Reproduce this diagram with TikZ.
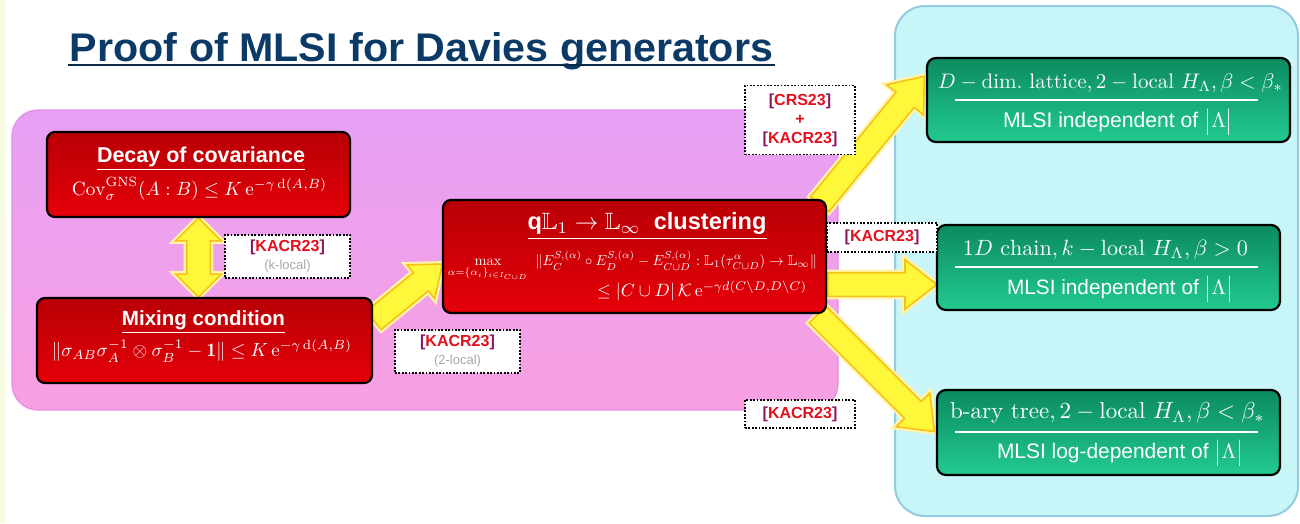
\documentclass[tikz,border=0pt]{standalone}
\usepackage{amsmath,amssymb}
\usepackage{fontspec}
\setsansfont{Liberation Sans}
\usetikzlibrary{shapes.arrows,calc}
\pgfdeclarelayer{back}
\pgfsetlayers{back,main}

\definecolor{titleblue}{HTML}{0B3A66}
\definecolor{pinktop}{HTML}{E6A0F4}
\definecolor{pinkbot}{HTML}{F8A0E2}
\definecolor{pinkedge}{HTML}{E48FE6}
\definecolor{cyanfill}{HTML}{C8F6F8}
\definecolor{cyanedge}{HTML}{93CBE0}
\definecolor{redtop}{HTML}{B80006}
\definecolor{redbot}{HTML}{E60008}
\definecolor{greentop}{HTML}{0C8A5F}
\definecolor{greenbot}{HTML}{22CB8F}
\definecolor{arrowfill}{HTML}{FFF83A}
\definecolor{arrowedge}{HTML}{F4C21A}
\definecolor{arrowglow}{HTML}{FFF4A8}
\definecolor{refred}{HTML}{E3101E}
\definecolor{refbrk}{HTML}{8A1664}
\definecolor{refgray}{HTML}{A8A8A8}
\definecolor{edgecream}{HTML}{F7FBE2}

% scale a piece of text or math to a given width
\newcommand\fitto[2]{\resizebox{#1}{!}{#2}}
% reference tag with coloured brackets
\newcommand\reftag[1]{\textcolor{refbrk}{[}\textcolor{refred}{#1}\textcolor{refbrk}{]}}
% invisible strut that sets the shaft width of the block arrows
\newcommand\shaftstrut{\rule[-11pt]{0pt}{22pt}}

% block arrow from one point to another
\newcommand\blockarrow[3][]{%
  \path let \p1=(#2), \p2=(#3),
    \n1={atan2(\y2-\y1,\x2-\x1)},
    \n2={veclen(\x2-\x1,\y2-\y1)} in
    node[yarrow, rotate=\n1, minimum height=\n2, anchor=tail, #1] at (\p1) {\shaftstrut};}
% two-headed block arrow between two points
\newcommand\dblockarrow[3][]{%
  \path let \p1=(#2), \p2=(#3),
    \n1={atan2(\y2-\y1,\x2-\x1)},
    \n2={veclen(\x2-\x1,\y2-\y1)} in
    node[ydouble, rotate=\n1, minimum height=\n2, #1] at ($(\p1)!0.5!(\p2)$) {\shaftstrut};}

\tikzset{
  redbox/.style={draw=black, line width=2.2pt, rounded corners=8pt,
    top color=redtop, bottom color=redbot, inner sep=0pt},
  greenbox/.style={draw=black, line width=2.2pt, rounded corners=9pt,
    top color=greentop, bottom color=greenbot, inner sep=0pt},
  txt/.style={inner sep=0pt, text=white},
  refbox/.style={draw=black, line width=1.8pt, dash pattern=on 1.8pt off 1.6pt,
    fill=white, inner sep=0pt, align=center,
    font=\sffamily\bfseries\fontsize{16}{18}\selectfont},
  yarrow/.style={single arrow, draw=arrowedge, line width=1.6pt, fill=arrowfill,
    inner sep=0pt, single arrow head extend=12pt,
    single arrow tip angle=76, preaction={draw=arrowglow, line width=6pt}},
  ydouble/.style={double arrow, draw=arrowedge, line width=1.6pt, fill=arrowfill,
    inner sep=0pt, double arrow head extend=11pt,
    double arrow tip angle=90, preaction={draw=arrowglow, line width=6pt}},
  fracrule/.style={draw=white, line width=1.2pt}
}

\begin{document}
\begin{tikzpicture}[x=1pt,y=-1pt]
\useasboundingbox (0,0) rectangle (1300,523);

% ---- title ----
\node[anchor=base, inner sep=0pt, text=titleblue] (title) at (421.5,61)
  {\resizebox{703pt}{\height}{\fontsize{40}{40}\selectfont\sffamily\bfseries Proof of MLSI for Davies generators}};
\draw[line width=2pt, titleblue!70!black] ($(title.base west)+(-2,3.5)$) -- ($(title.base east)+(2,3.5)$);

% ---- red boxes ----
\node[redbox, minimum width=303pt, minimum height=85pt] (cov) at (198.5,174.5) {};
\node[txt] (covt) at (201,159)
  {\fitto{208pt}{\sffamily\bfseries\underline{Decay of covariance}}};
\node[txt] (covf) at (199.5,189)
  {\fitto{255pt}{$\mathrm{Cov}^{\mathrm{GNS}}_{\sigma}(A:B)\le K\,\mathrm{e}^{-\gamma\,\mathrm{d}(A,B)}$}};

\node[redbox, minimum width=335pt, minimum height=85pt] (mix) at (204.5,340.5) {};
\node[txt] (mixt) at (203.5,322)
  {\fitto{163pt}{\sffamily\bfseries\underline{Mixing condition}}};
\node[txt] (mixf) at (202,351)
  {\fitto{300pt}{$\|\sigma_{AB}\sigma_A^{-1}\otimes\sigma_B^{-1}-\mathbf{1}\|\le K\,\mathrm{e}^{-\gamma\,\mathrm{d}(A,B)}$}};

\node[redbox, minimum width=383pt, minimum height=113pt] (q) at (634.5,256.5) {};
\node[txt] (qt) at (647,226)
  {\fitto{239pt}{\sffamily\bfseries\underline{q$\mathbb{L}_1\to\mathbb{L}_\infty$\ \ clustering}}};
\node[txt] (qf1) at (632.5,266)
  {\fitto{369pt}{$\displaystyle\max_{\alpha=\{\alpha_i\}_{i\in I_{C\cup D}}}\ \|E_C^{S,(\alpha)}\circ E_D^{S,(\alpha)}-E_{C\cup D}^{S,(\alpha)}:\mathbb{L}_1(\tau^{\alpha}_{C\cup D})\to\mathbb{L}_\infty\|$}};
\node[txt] (qf2) at (702,291)
  {\fitto{210pt}{$\le|C\cup D|\,\mathcal{K}\,\mathrm{e}^{-\gamma d(C\setminus D,D\setminus C)}$}};

% ---- green result boxes ----
\node[greenbox, minimum width=363pt, minimum height=84pt] (g1) at (1108.5,100) {};
\node[txt] (g1t) at (1110.5,83)
  {\fitto{345pt}{$D-\mathrm{dim.\ lattice}, 2-\mathrm{local}\ H_\Lambda,\beta<\beta_*$}};
\draw[fracrule] (955,100) -- (1258,100);
\node[txt] (g1b) at (1118,122)
  {\fitto{230pt}{\sffamily MLSI independent of $\bigl|\Lambda\bigr|$}};

\node[greenbox, minimum width=343pt, minimum height=85pt] (g2) at (1108.5,267.5) {};
\node[txt] (g2t) at (1105.5,250)
  {\fitto{285pt}{$1D\ \mathrm{chain}, k-\mathrm{local}\ H_\Lambda,\beta>0$}};
\draw[fracrule] (955,267) -- (1258,267);
\node[txt] (g2b) at (1120,289)
  {\fitto{226pt}{\sffamily MLSI independent of $\bigl|\Lambda\bigr|$}};

\node[greenbox, minimum width=343pt, minimum height=85pt] (g3) at (1108.5,432.5) {};
\node[txt] (g3t) at (1107.5,413)
  {\fitto{315pt}{$\text{b-ary tree}, 2-\mathrm{local}\ H_\Lambda,\beta<\beta_*$}};
\draw[fracrule] (955,432) -- (1258,432);
\node[txt] (g3b) at (1120,453)
  {\fitto{246pt}{\sffamily MLSI log-dependent of $\bigl|\Lambda\bigr|$}};

% ---- reference tags ----
\node[refbox, minimum width=125pt, minimum height=43pt] (lk) at (287.5,256.5)
  {\reftag{KACR23}\\
   {\fontsize{13}{14}\selectfont\mdseries\color{refgray}(k-local)}};
\node[refbox, minimum width=125pt, minimum height=43pt] (l2) at (457.5,351.5)
  {\reftag{KACR23}\\
   {\fontsize{13}{14}\selectfont\mdseries\color{refgray}(2-local)}};
\node[refbox, minimum width=110pt, minimum height=69pt,
      font=\sffamily\bfseries\fontsize{16}{19}\selectfont] (lc) at (800,120)
  {\reftag{CRS23}\\\textcolor{refred}{+}\\\reftag{KACR23}};
\node[refbox, minimum width=110pt, minimum height=29pt] (lm) at (882,237.5)
  {\reftag{KACR23}};
\node[refbox, minimum width=110pt, minimum height=28pt] (lb) at (800,414)
  {\reftag{KACR23}};

% ---- panels and arrows behind the boxes ----
\begin{pgfonlayer}{back}
  \fill[white] (0,0) rectangle (1300,523);
  \fill[edgecream] (0,0) rectangle (6,523);
  \draw[line width=1.2pt, draw=pinkedge, top color=pinktop, bottom color=pinkbot,
        rounded corners=26pt] (12,110) rectangle (838,410);
  \draw[line width=2pt, draw=cyanedge, fill=cyanfill, rounded corners=30pt]
        (895,6) rectangle (1298,516);

  \dblockarrow{cov.south}{cov.south |- mix.north}
  \blockarrow[single arrow head extend=10pt]{$(mix.north east)+(0,24)$}{$(q.west)+(0,8)$}
  \blockarrow{$(q.north east)+(-8,6)$}{$(g1.north west)+(-2,20)$}
  \blockarrow[single arrow head extend=13pt]{$(q.east)+(0,28)$}{$(g2.west)+(0,17)$}
  \blockarrow{$(q.south east)+(-10,0)$}{$(g3.north west)+(-2,42)$}
\end{pgfonlayer}
\end{tikzpicture}
\end{document}
